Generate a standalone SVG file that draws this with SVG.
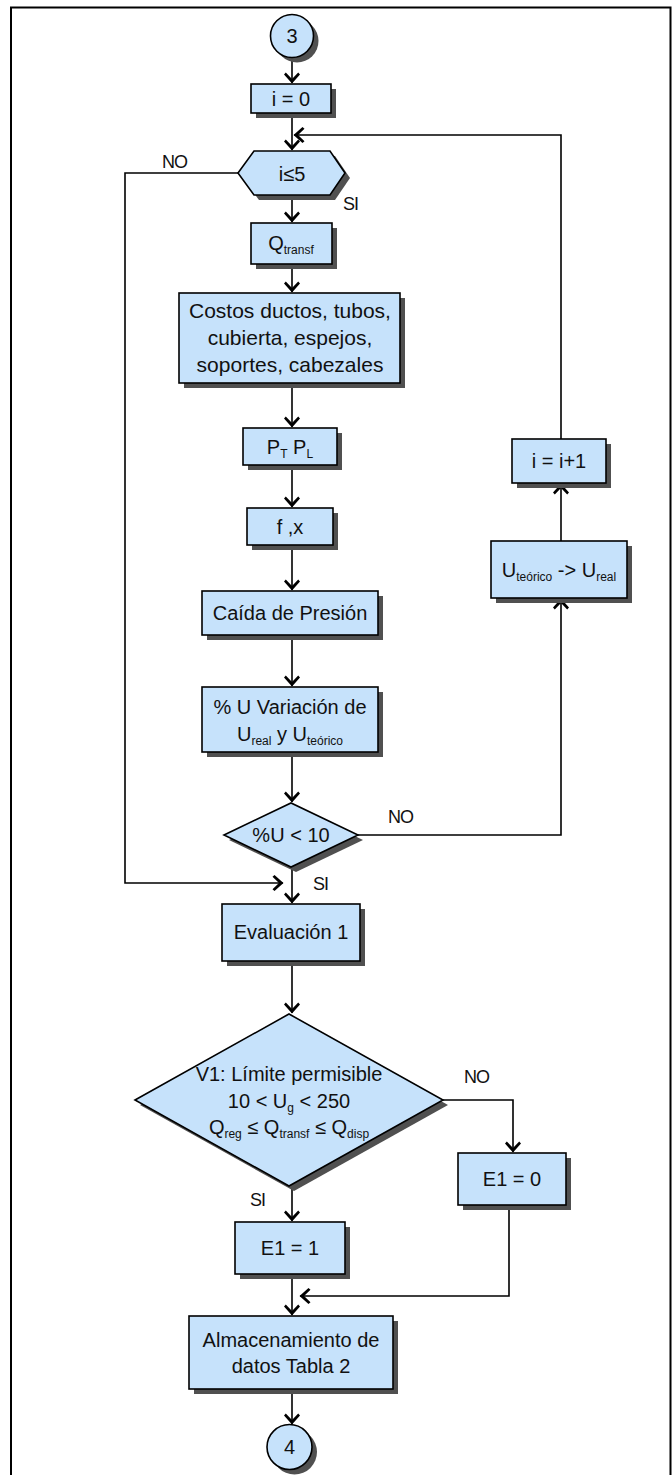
<svg xmlns="http://www.w3.org/2000/svg" width="672" height="1475" viewBox="0 0 672 1475">
<defs>
<style>
.n{fill:#C6E2FB;stroke:#000;stroke-width:1.6}
.s{fill:#505050;stroke:none}
.t{font-family:"Liberation Sans",Arial,sans-serif;font-size:20px;fill:#111;text-anchor:middle}
.lb{font-family:"Liberation Sans",Arial,sans-serif;font-size:18px;fill:#111;letter-spacing:-1px}
.sub{font-size:12px}
.c{fill:none;stroke:#000;stroke-width:1.6}
</style>
<marker id="ah" markerUnits="userSpaceOnUse" markerWidth="12" markerHeight="16" viewBox="0 0 11 16" refX="10.5" refY="8" orient="auto">
<path d="M0,1.8 L2,0 L11,8 L2,16 L0,14.2 L6.5,8 z" fill="#000"/>
</marker>
</defs>
<rect width="672" height="1475" fill="#fff"/>
<g id="frame">
<path d="M11,1475 L11,7.5 L670.5,7.5 L670.5,1475" fill="none" stroke="#000" stroke-width="2"/>
</g>

<g id="connectors">
<line class="c" x1="292" y1="58" x2="292" y2="83" marker-end="url(#ah)"/>
<line class="c" x1="292" y1="113" x2="292" y2="150" marker-end="url(#ah)"/>
<polyline class="c" points="561,439 561,135 294,135" marker-end="url(#ah)"/>
<polyline class="c" points="238,173 125,173 125,883 283,883" marker-end="url(#ah)"/>
<line class="c" x1="292" y1="195" x2="292" y2="222" marker-end="url(#ah)"/>
<line class="c" x1="292" y1="264" x2="292" y2="292" marker-end="url(#ah)"/>
<line class="c" x1="292" y1="383" x2="292" y2="427" marker-end="url(#ah)"/>
<line class="c" x1="292" y1="465" x2="292" y2="507" marker-end="url(#ah)"/>
<line class="c" x1="292" y1="545" x2="292" y2="590" marker-end="url(#ah)"/>
<line class="c" x1="292" y1="635" x2="292" y2="686" marker-end="url(#ah)"/>
<line class="c" x1="292" y1="752" x2="292" y2="802" marker-end="url(#ah)"/>
<polyline class="c" points="358,835 561,835 561,599" marker-end="url(#ah)"/>
<line class="c" x1="561" y1="541" x2="561" y2="484" marker-end="url(#ah)"/>
<line class="c" x1="292" y1="867" x2="292" y2="903" marker-end="url(#ah)"/>
<line class="c" x1="292" y1="961" x2="292" y2="1013" marker-end="url(#ah)"/>
<polyline class="c" points="443,1100 513,1100 513,1152" marker-end="url(#ah)"/>
<line class="c" x1="292" y1="1186" x2="292" y2="1221" marker-end="url(#ah)"/>
<polyline class="c" points="509,1205 509,1296 300,1296" marker-end="url(#ah)"/>
<line class="c" x1="292" y1="1274" x2="292" y2="1315" marker-end="url(#ah)"/>
<line class="c" x1="292" y1="1389" x2="292" y2="1424" marker-end="url(#ah)"/>
</g>

<g id="labels">
<text class="lb" x="162" y="168">NO</text>
<text class="lb" x="343" y="210">SI</text>
<text class="lb" x="388" y="823">NO</text>
<text class="lb" x="313" y="890">SI</text>
<text class="lb" x="464" y="1083">NO</text>
<text class="lb" x="250" y="1206">SI</text>
</g>

<g id="start3">
<circle class="s" cx="297" cy="41" r="21.5"/>
<circle class="n" cx="292" cy="36" r="21.5"/>
<text class="t" x="292" y="43">3</text>
</g>

<g id="i0">
<rect class="s" x="256" y="89" width="80" height="29"/>
<rect class="n" x="251" y="84" width="80" height="29"/>
<text class="t" x="291" y="106">i = 0</text>
</g>

<g id="cond_i5">
<polygon class="s" points="243,178 259,156 335,156 350,178 335,200 259,200"/>
<polygon class="n" points="238,173 254,151 330,151 345,173 330,195 254,195"/>
<text class="t" x="292" y="181">i≤5</text>
</g>

<g id="qtransf">
<rect class="s" x="256" y="228" width="81" height="41"/>
<rect class="n" x="251" y="223" width="81" height="41"/>
<text class="t" x="291" y="250">Q<tspan class="sub" dy="4">transf</tspan></text>
</g>

<g id="costos">
<rect class="s" x="184" y="298" width="221" height="90"/>
<rect class="n" x="179" y="293" width="221" height="90"/>
<text class="t" x="290" y="318" style="font-size:21px">Costos ductos, tubos,</text>
<text class="t" x="290" y="345" style="font-size:21px">cubierta, espejos,</text>
<text class="t" x="290" y="372" style="font-size:21px">soportes, cabezales</text>
</g>

<g id="ptpl">
<rect class="s" x="248" y="433" width="94" height="37"/>
<rect class="n" x="243" y="428" width="94" height="37"/>
<text class="t" x="290" y="454">P<tspan class="sub" dy="4">T</tspan><tspan dy="-4"> P</tspan><tspan class="sub" dy="4">L</tspan></text>
</g>

<g id="fx">
<rect class="s" x="252" y="513" width="86" height="37"/>
<rect class="n" x="247" y="508" width="86" height="37"/>
<text class="t" x="290" y="534">f ,x</text>
</g>

<g id="caida">
<rect class="s" x="207" y="596" width="176" height="44"/>
<rect class="n" x="202" y="591" width="176" height="44"/>
<text class="t" x="290" y="620">Caída de Presión</text>
</g>

<g id="variacion">
<rect class="s" x="207" y="692" width="176" height="65"/>
<rect class="n" x="202" y="687" width="176" height="65"/>
<text class="t" x="290" y="714">% U Variación de</text>
<text class="t" x="290" y="741">U<tspan class="sub" dy="4">real</tspan><tspan dy="-4"> y U</tspan><tspan class="sub" dy="4">teórico</tspan></text>
</g>

<g id="cond_u10">
<polygon class="s" points="229,840 296,808 363,840 296,872"/>
<polygon class="n" points="224,835 291,803 358,835 291,867"/>
<text class="t" x="291" y="842">%U &lt; 10</text>
</g>

<g id="uteorico">
<rect class="s" x="496" y="546" width="136" height="57"/>
<rect class="n" x="491" y="541" width="136" height="57"/>
<text class="t" x="559" y="577">U<tspan class="sub" dy="4">teórico</tspan><tspan dy="-4"> -&gt; U</tspan><tspan class="sub" dy="4">real</tspan></text>
</g>

<g id="iinc">
<rect class="s" x="517" y="444" width="94" height="44"/>
<rect class="n" x="512" y="439" width="94" height="44"/>
<text class="t" x="559" y="468">i = i+1</text>
</g>

<g id="evaluacion">
<rect class="s" x="227" y="909" width="138" height="57"/>
<rect class="n" x="222" y="904" width="138" height="57"/>
<text class="t" x="291" y="939">Evaluación 1</text>
</g>

<g id="cond_v1">
<polygon class="s" points="140,1105 294,1019 448,1105 294,1191"/>
<polygon class="n" points="135,1100 289,1014 443,1100 289,1186"/>
<text class="t" x="289" y="1081">V1: Límite permisible</text>
<text class="t" x="289" y="1108">10 &lt; U<tspan class="sub" dy="4">g</tspan><tspan dy="-4"> &lt; 250</tspan></text>
<text class="t" x="289" y="1134">Q<tspan class="sub" dy="4">reg</tspan><tspan dy="-4"> ≤ Q</tspan><tspan class="sub" dy="4">transf</tspan><tspan dy="-4"> ≤ Q</tspan><tspan class="sub" dy="4">disp</tspan></text>
</g>

<g id="e1zero">
<rect class="s" x="463" y="1158" width="108" height="52"/>
<rect class="n" x="458" y="1153" width="108" height="52"/>
<text class="t" x="512" y="1186">E1 = 0</text>
</g>

<g id="e1one">
<rect class="s" x="240" y="1227" width="110" height="52"/>
<rect class="n" x="235" y="1222" width="110" height="52"/>
<text class="t" x="290" y="1255">E1 = 1</text>
</g>

<g id="almacen">
<rect class="s" x="194" y="1321" width="204" height="73"/>
<rect class="n" x="189" y="1316" width="204" height="73"/>
<text class="t" x="291" y="1347">Almacenamiento de</text>
<text class="t" x="291" y="1373">datos Tabla 2</text>
</g>

<g id="end4">
<circle class="s" cx="294.5" cy="1452" r="22.5"/>
<circle class="n" cx="289.5" cy="1447" r="22.5"/>
<text class="t" x="289.5" y="1454">4</text>
</g>
</svg>
